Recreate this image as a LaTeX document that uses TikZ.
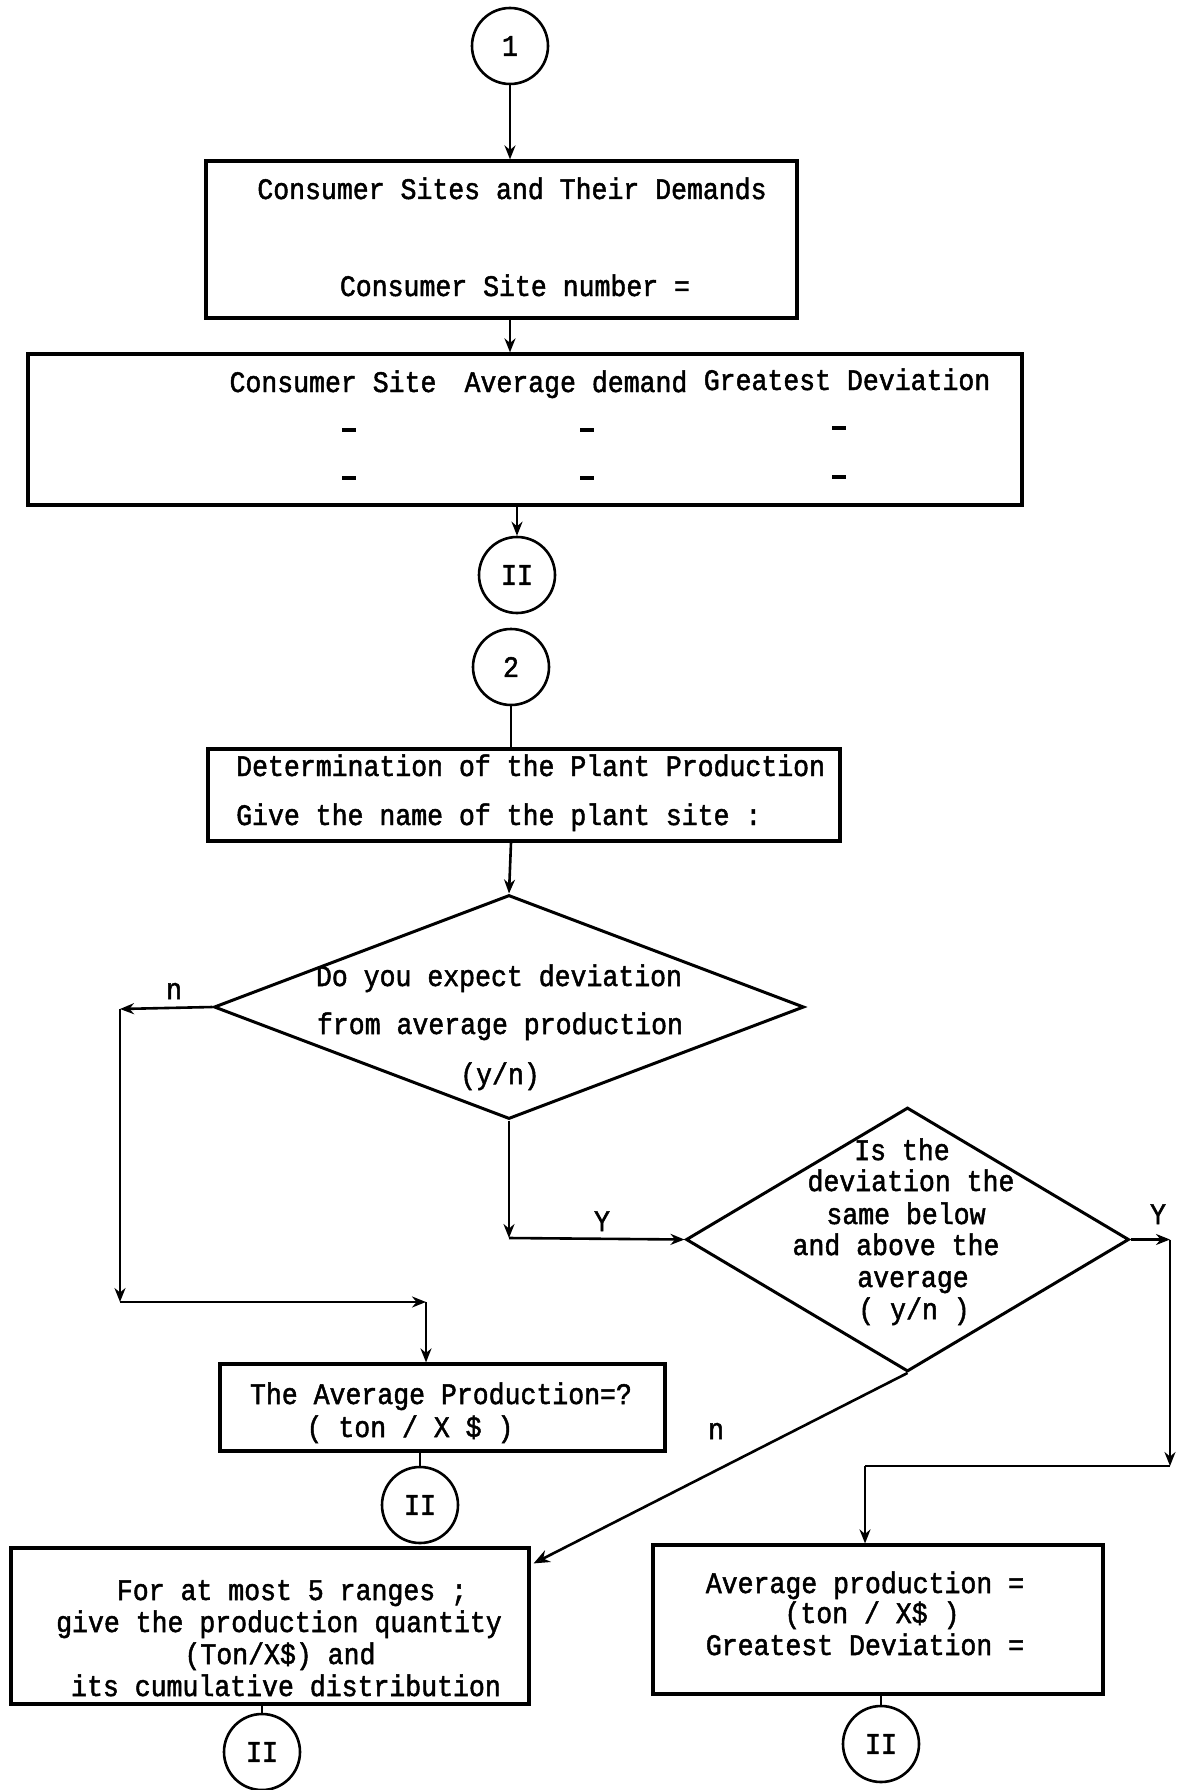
\documentclass[tikz,border=0pt]{standalone}
\usepackage{fontspec}
\usetikzlibrary{arrows.meta,shapes.geometric}
\newfontfamily\tw[FakeStretch=0.89,FakeBold=1.6]{Liberation Mono}
\begin{document}
\begin{tikzpicture}[x=1pt,y=-1pt,
  every node/.style={font=\tw\fontsize{29.8}{35}\selectfont, inner sep=0pt},
  box/.style={draw, line width=3.2pt, rectangle},
  conn/.style={draw, line width=2.6pt, circle, minimum size=76pt},
  dec/.style={draw, line width=3pt, diamond},
  txt/.style={anchor=base},
  dsh/.style={draw=none, fill=black, minimum width=14pt, minimum height=3.5pt},
  ln/.style={line width=2.6pt},
  arr/.style={line width=2.6pt, -{Stealth[length=14pt,width=11pt]}},
  oarr/.style={line width=2.6pt, -{Stealth[open,length=16pt,width=13pt]}}]
\useasboundingbox (0,0) rectangle (1176,1790);

% ---------- part 1: consumer sites ----------
\node[conn] (c1) at (510,46) {1};
\node[box, minimum width=591pt, minimum height=157pt] (b1) at (501.5,239.5) {};
\node[txt] (t11) at (512,199) {Consumer Sites and Their Demands};
\node[txt] (t12) at (515,296) {Consumer Site number =};

\node[box, minimum width=994pt, minimum height=151pt] (b2) at (525,429.5) {};
\node[txt] (h1) at (333,392) {Consumer Site};
\node[txt] (h2) at (576,392) {Average demand};
\node[txt] (h3) at (847,390) {Greatest Deviation};
% empty table rows
\node[dsh] (r11) at (349,430) {};
\node[dsh] (r12) at (587,430) {};
\node[dsh] (r13) at (839,428) {};
\node[dsh] (r21) at (349,478) {};
\node[dsh] (r22) at (587,478) {};
\node[dsh] (r23) at (839,477) {};

\node[conn] (ii1) at (517,575) {II};

\draw[arr] (c1.south) -- (c1.south |- b1.north);
\draw[arr] (c1.south |- b1.south) -- (c1.south |- b2.north);
\draw[arr] (ii1.north |- b2.south) -- (ii1.north);

% ---------- part 2: plant production ----------
\node[conn] (c2) at (511,667) {2};
\node[box, minimum width=632pt, minimum height=92pt] (b3) at (524,795) {};
\node[txt, anchor=base west] (t31) at (236,776) {Determination of the Plant Production};
\node[txt, anchor=base west] (t32) at (236,825) {Give the name of the plant site :};

\node[dec, minimum width=590pt, minimum height=224pt] (d1) at (509,1007) {};
\node[txt] (t41) at (499,986) {Do you expect deviation};
\node[txt] (t42) at (500,1034) {from average production};
\node[txt] (t43) at (500,1084) {(y/n)};

\node[dec, minimum width=443pt, minimum height=264pt] (d2) at (907.5,1239.5) {};
\node[txt] (t51) at (902,1160) {Is the};
\node[txt] (t52) at (911,1191) {deviation the};
\node[txt] (t53) at (906,1224) {same below};
\node[txt] (t54) at (896,1255) {and above the};
\node[txt] (t55) at (913,1287) {average};
\node[txt] (t56) at (914,1319) {( y/n )};

\node[box, minimum width=445pt, minimum height=87pt] (b4) at (442.5,1407.5) {};
\node[txt] (t61) at (441,1404) {The Average Production=?};
\node[txt] (t62) at (410,1437) {( ton / X \$ )};
\node[conn] (ii2) at (420,1505) {II};

\node[box, minimum width=518pt, minimum height=156pt] (b5) at (270,1626) {};
\node[txt] (t71) at (292,1600) {For at most 5 ranges ;};
\node[txt] (t72) at (279,1632) {give the production quantity};
\node[txt] (t73) at (280,1664) {(Ton/X\$) and};
\node[txt] (t74) at (286,1696) {its cumulative distribution};
\node[conn] (ii3) at (262,1752) {II};

\node[box, minimum width=450pt, minimum height=149pt] (b6) at (878,1619.5) {};
\node[txt] (t81) at (865,1593) {Average production =};
\node[txt] (t82) at (872,1623) {(ton / X\$ )};
\node[txt] (t83) at (865,1655) {Greatest Deviation =};
\node[conn] (ii4) at (881,1744) {II};

% branch labels
\node[txt] (ln1) at (174,999) {n};
\node[txt] (ly1) at (602,1231) {Y};
\node[txt] (ly2) at (1158,1224) {Y};
\node[txt] (ln2) at (716,1439) {n};

% corner points of the routed connectors
\coordinate (nl) at (120,1009);
\coordinate (nb) at (120,1302);
\coordinate (nr) at (426,1302);
\coordinate (yb) at (509,1238);
\coordinate (yr) at (1170,1239.5);
\coordinate (yd) at (1170,1466);
\coordinate (yl) at (865,1466);

\draw[ln] (c2.south) -- (c2.south |- b3.north);
\draw[arr] (c2.south |- b3.south) -- (d1.north);

% "n" branch of the first decision
\draw[arr] (d1.west) -- (nl);
\draw[arr] (nl) -- (nb);
\draw[arr] (nb) -- (nr);
\draw[arr] (nr) -- (nr |- b4.north);

% "Y" branch of the first decision
\draw[arr] (d1.south) -- (yb);
\draw[arr] (yb) -- (d2.west);

% "Y" branch of the second decision
\draw[arr] (d2.east) -- (yr);
\draw[arr] (yr) -- (yd);
\draw[ln] (yd) -- (yl);
\draw[arr] (yl) -- (yl |- b6.north);

% "n" branch of the second decision
\draw[oarr] (d2.south) -- ([xshift=3pt,yshift=-17pt]b5.north east);

% exits to connector II
\draw[ln] (ii2.north |- b4.south) -- (ii2.north);
\draw[ln] (ii3.north |- b5.south) -- (ii3.north);
\draw[ln] (ii4.north |- b6.south) -- (ii4.north);
\end{tikzpicture}
\end{document}
